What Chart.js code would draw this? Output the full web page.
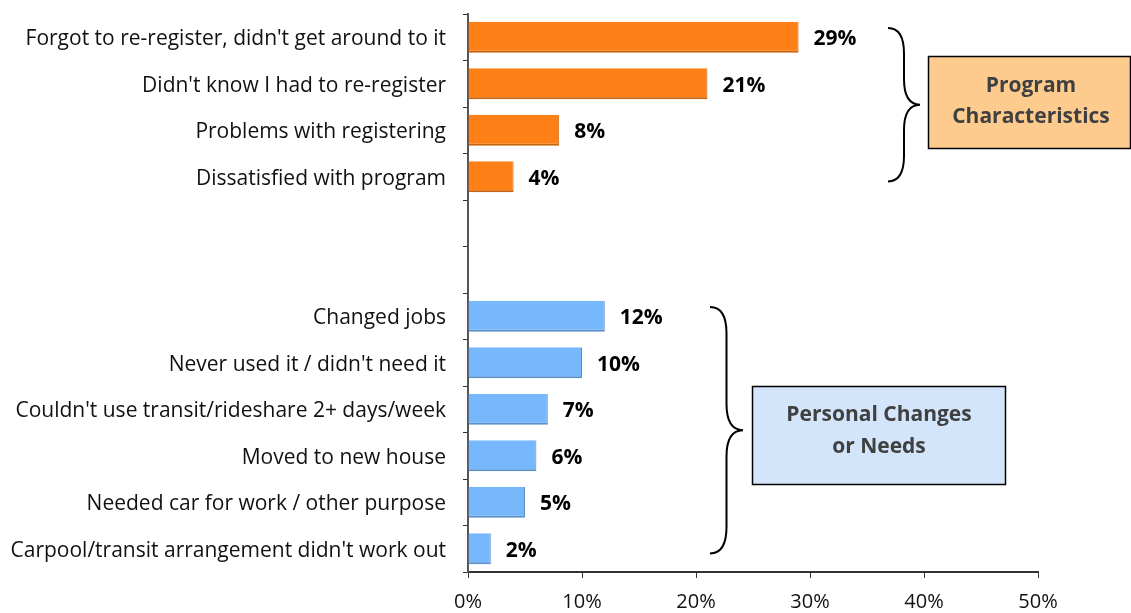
<!DOCTYPE html>
<html>
<head>
<meta charset="utf-8">
<script src="https://cdn.jsdelivr.net/npm/chart.js@4.4.1/dist/chart.umd.min.js"></script>
<style>
  html, body { margin: 0; padding: 0; background: #fff; }
  #wrap { width: 1131px; height: 613px; position: relative; }
</style>
</head>
<body>
<div id="wrap"><canvas id="c" width="1131" height="613"></canvas></div>
<script>
// ---- data ----
const categories = [
  "Forgot to re-register, didn't get around to it",
  "Didn't know I had to re-register",
  "Problems with registering",
  "Dissatisfied with program",
  "",
  "",
  "Changed jobs",
  "Never used it / didn't need it",
  "Couldn't use transit/rideshare 2+ days/week",
  "Moved to new house",
  "Needed car for work / other purpose",
  "Carpool/transit arrangement didn't work out"
];
const programValues  = [29, 21, 8, 4, null, null, null, null, null, null, null, null];
const personalValues = [null, null, null, null, null, null, 12, 10, 7, 6, 5, 2];
const xTicks = [0, 10, 20, 30, 40, 50];
const groupLabels = [["Program", "Characteristics"], ["Personal Changes", "or Needs"]];

const FONT = "'Open Sans', 'Noto Sans', sans-serif";

const valueLabels = {
  id: 'valueLabels',
  afterDatasetsDraw(chart) {
    const ctx = chart.ctx;
    ctx.save();
    ctx.font = "bold 21px " + FONT;
    ctx.fillStyle = "#000";
    ctx.textBaseline = "middle";
    ctx.textAlign = "left";
    chart.data.datasets.forEach((ds, di) => {
      const meta = chart.getDatasetMeta(di);
      meta.data.forEach((bar, i) => {
        const v = ds.data[i];
        if (v === null || v === undefined) return;
        ctx.fillText(v + "%", bar.x + 15, bar.y + 2);
      });
    });
    ctx.restore();
  }
};

function drawBrace(ctx, x, y1, y2, w) {
  // right-pointing curly brace
  const ym = (y1 + y2) / 2;
  const r = w / 2;
  ctx.beginPath();
  ctx.moveTo(x, y1);
  ctx.quadraticCurveTo(x + r, y1, x + r, y1 + r * 1.6);
  ctx.lineTo(x + r, ym - r * 1.6);
  ctx.quadraticCurveTo(x + r, ym, x + w, ym);
  ctx.quadraticCurveTo(x + r, ym, x + r, ym + r * 1.6);
  ctx.lineTo(x + r, y2 - r * 1.6);
  ctx.quadraticCurveTo(x + r, y2, x, y2);
  ctx.stroke();
}

const annotations = {
  id: 'annotations',
  afterDraw(chart) {
    const ctx = chart.ctx;
    const ys = chart.scales.y;
    const slot = ys.getPixelForValue(1) - ys.getPixelForValue(0);
    ctx.save();
    ctx.strokeStyle = "#000";
    ctx.lineWidth = 2;
    // brace for program group (categories 0..3)
    const b1top = ys.getPixelForValue(0) - slot * 0.2;
    const b1bot = ys.getPixelForValue(3) + slot * 0.1;
    drawBrace(ctx, 888, b1top, b1bot, 32);
    // brace for personal group (6..11)
    const b2top = ys.getPixelForValue(6) - slot * 0.2;
    const b2bot = ys.getPixelForValue(11) + slot * 0.1;
    drawBrace(ctx, 710, b2top, b2bot, 33);

    // boxes
    ctx.lineWidth = 1.5;
    ctx.fillStyle = "#FDCB8E";
    ctx.fillRect(928, 56, 202, 92);
    ctx.strokeRect(928.5, 56.5, 202, 92);
    ctx.fillStyle = "#D2E5FA";
    ctx.fillRect(752, 386, 253, 98);
    ctx.strokeRect(752.5, 386.5, 253, 98);

    ctx.fillStyle = "#404040";
    ctx.font = "bold 21px " + FONT;
    ctx.textAlign = "center";
    ctx.textBaseline = "middle";
    ctx.fillText(groupLabels[0][0], 1031, 86);
    ctx.fillText(groupLabels[0][1], 1031, 117);
    ctx.fillText(groupLabels[1][0], 879, 415);
    ctx.fillText(groupLabels[1][1], 879, 447);
    ctx.restore();
  }
};

new Chart(document.getElementById('c'), {
  type: 'bar',
  data: {
    labels: categories,
    datasets: [
      {
        data: programValues,
        backgroundColor: "#FE7F16",
        borderColor: "#C8620E",
        borderWidth: { top: 0, right: 1, bottom: 2, left: 0 },
        borderSkipped: false,
        barPercentage: 0.67,
        categoryPercentage: 1.0,
        grouped: false
      },
      {
        data: personalValues,
        backgroundColor: "#77B7FC",
        borderColor: "#5A8FC8",
        borderWidth: { top: 0, right: 1, bottom: 2, left: 0 },
        borderSkipped: false,
        barPercentage: 0.67,
        categoryPercentage: 1.0,
        grouped: false
      }
    ]
  },
  options: {
    indexAxis: 'y',
    responsive: false,
    animation: false,
    layout: { padding: { top: 14, right: 93, left: 0, bottom: 0 } },
    plugins: { legend: { display: false }, tooltip: { enabled: false } },
    scales: {
      x: {
        min: 0, max: 50,
        afterBuildTicks(scale) { scale.ticks = xTicks.map(v => ({ value: v })); },
        afterFit(scale) { scale.height = 41; scale.paddingLeft = 0; scale.paddingRight = 0; },
        grid: { drawOnChartArea: false, drawTicks: true, tickLength: 6, color: "#333", lineWidth: 1 },
        border: { display: true, color: "#333", width: 2 },
        ticks: {
          callback: v => v + "%",
          font: { family: FONT, size: 20 },
          color: "#111",
          padding: 12,
          maxRotation: 0
        }
      },
      y: {
        afterFit(scale) { scale.width = 468; scale.paddingTop = 0; scale.paddingBottom = 0; },
        grid: { drawOnChartArea: false, drawTicks: true, tickLength: 5, offset: true, color: "#333", lineWidth: 1 },
        border: { display: true, color: "#555", width: 2 },
        ticks: {
          font: { family: FONT, size: 21 },
          color: "#111",
          padding: 17,
          labelOffset: 2,
          autoSkip: false
        }
      }
    }
  },
  plugins: [valueLabels, annotations]
});
</script>
</body>
</html>
